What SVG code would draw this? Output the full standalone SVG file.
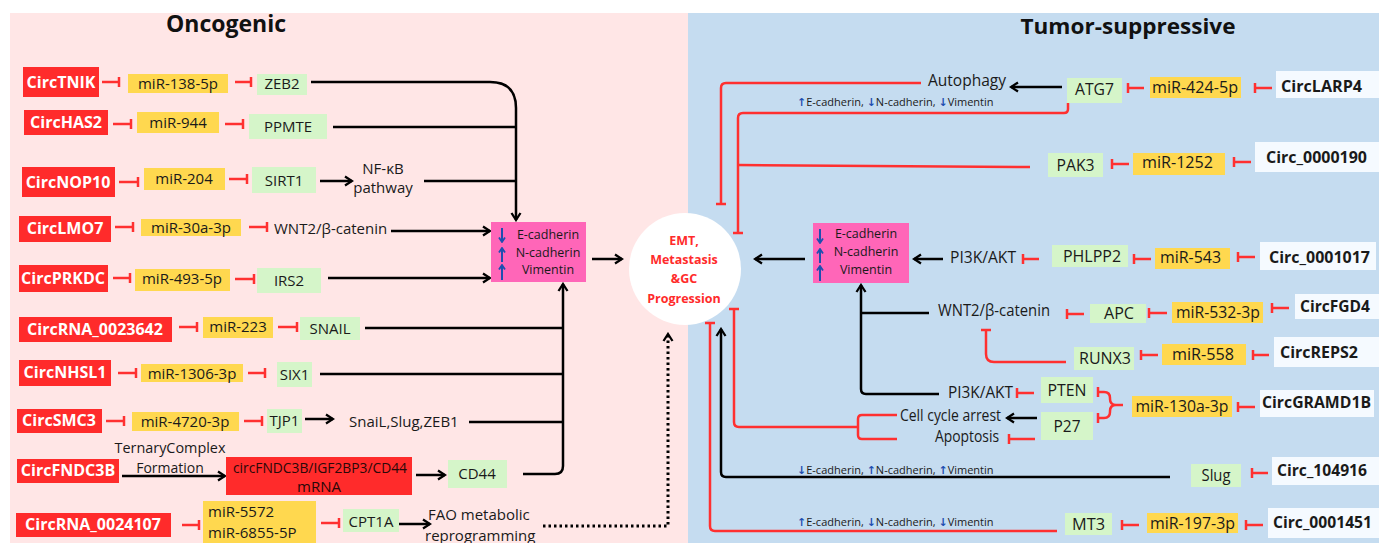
<svg xmlns="http://www.w3.org/2000/svg" width="1379" height="543" viewBox="0 0 1379 543">
<style>
text{font-family:'Open Sans','Noto Sans','Liberation Sans',sans-serif;fill:#1a1a1a;font-size:15px}
.c{text-anchor:middle}
.rb{fill:#FF2B2B}.yb{fill:#FFD84F}.gb{fill:#D5F5C9}.wb{fill:#F5FAFF}.pb{fill:#FF66B8}
.tw{fill:#fff;font-weight:bold;font-size:16px}
.tk{font-weight:bold;font-size:16px}
.r{font-size:16px}
.s{font-size:11px}
.ar2{font-family:'DejaVu Sans',sans-serif;font-size:11px;fill:#1F4FB0;font-weight:bold}
.ti{font-weight:bold;font-size:23px;fill:#111}
.ct{fill:#FF2B2B;font-weight:bold;font-size:12.5px}
.pk{font-size:12.5px}
.sm{font-size:14px}
.inh{fill:none;stroke:#FF3030;stroke-width:2.5;marker-end:url(#bar)}
.rl{fill:none;stroke:#FF3030;stroke-width:2.5}
.ln{fill:none;stroke:#000;stroke-width:2.5}
.ar{fill:none;stroke:#000;stroke-width:2.5;marker-end:url(#ah)}
.dt{fill:none;stroke:#000;stroke-width:3;stroke-dasharray:2.5 3;marker-end:url(#ah)}
.ba{fill:none;stroke:#1F4FB0;stroke-width:2;marker-end:url(#bh)}
</style>
<defs>
<marker id="bar" viewBox="-3 -6 6 12" refX="0" refY="0" markerWidth="6" markerHeight="12" orient="auto" markerUnits="userSpaceOnUse"><path d="M0,-5V5" stroke="#FF3030" stroke-width="2.5"/></marker>
<marker id="ah" viewBox="-10 -6 12 12" refX="0" refY="0" markerWidth="12" markerHeight="12" orient="auto" markerUnits="userSpaceOnUse"><path d="M-7,-4.5L0,0L-7,4.5" fill="none" stroke="#000" stroke-width="2.3"/></marker>
<marker id="bh" viewBox="-6 -4 7 8" refX="0" refY="0" markerWidth="7" markerHeight="8" orient="auto" markerUnits="userSpaceOnUse"><path d="M-4.5,-3L0,0L-4.5,3" fill="none" stroke="#1F4FB0" stroke-width="1.8"/></marker>
</defs>
<rect x="0" y="0" width="1379" height="543" fill="#fff"/>
<rect x="10" y="13" width="678" height="530" fill="#FFE6E6"/>
<rect x="688" y="13" width="691" height="530" fill="#C5DCF0"/>
<text class="ti c" x="226" y="32">Oncogenic</text>
<text class="ti c" x="1128" y="34" style="font-size:22px" textLength="215" lengthAdjust="spacingAndGlyphs">Tumor-suppressive</text>

<g id="connectors">
<path class="inh" d="M102,82H119"/><path class="inh" d="M235,82H251"/>
<path class="inh" d="M113,124H131"/><path class="inh" d="M225,124H243"/>
<path class="inh" d="M119,182H138"/><path class="inh" d="M229,179H247"/>
<path class="inh" d="M115,227H133"/><path class="inh" d="M249,227H267"/>
<path class="inh" d="M113,278H130"/><path class="inh" d="M235,279H254"/>
<path class="inh" d="M179,327H197"/><path class="inh" d="M278,327H297"/>
<path class="inh" d="M118,373H136"/><path class="inh" d="M248,373H265"/>
<path class="inh" d="M106,421H124"/><path class="inh" d="M244,421H262"/>
<path class="inh" d="M182,525H199"/><path class="inh" d="M321,523H339"/>
<path class="ar" d="M311,82H490Q516,82 516,108V220"/>
<path class="ln" d="M333,127H516"/>
<path class="ar" d="M320,181H352"/>
<path class="ln" d="M424,181H516"/>
<path class="ar" d="M391,231H490"/>
<path class="ar" d="M328,278H490"/>
<path class="ln" d="M365,328H563"/>
<path class="ln" d="M320,374H563"/>
<path class="ar" d="M305,419H333"/>
<path class="ln" d="M469,422H563"/>
<path class="ar" d="M122,476H225"/>
<path class="ar" d="M416,475H445"/>
<path class="ar" d="M523,474H555Q563,474 563,466V284"/>
<path class="ar" d="M399,524H430"/>
<path class="dt" d="M543,526H668V334"/>
<path class="ar" d="M592,259H622"/>
<path class="ar" d="M1062,87H1011"/>
<path class="ar" d="M805,259H755"/>
<path class="ar" d="M943,259H914"/>
<path class="ar" d="M939,394H866Q861,394 861,389V285"/>
<path class="ln" d="M929,313H861"/>
<path class="ar" d="M1037,418H1007"/>
<path class="ar" d="M1170,477H726Q721,477 721,472V329"/>
<path class="inh" d="M921,83H726Q721,83 721,88V204"/>
<path class="inh" d="M1068,103V109Q1068,113 1064,113H743Q738,113 738,118V233"/>
<path class="rl" d="M1030,167L738,165"/>
<path class="inh" d="M1057,531H715Q710,531 710,526V323"/>
<path class="rl" d="M897,415H862Q858,415 858,419V435Q858,439 862,439H897"/>
<path class="inh" d="M858,427H739Q734,427 734,422V309"/>
<path class="inh" d="M1066,362H994Q986,362 986,354V330"/>
<path class="inh" d="M1144,88H1128"/><path class="inh" d="M1272,88H1255"/>
<path class="inh" d="M1129,164H1112"/><path class="inh" d="M1251,162H1234"/>
<path class="inh" d="M1039,259H1023"/><path class="inh" d="M1151,259H1134"/><path class="inh" d="M1255,257H1238"/>
<path class="inh" d="M1084,314H1067"/><path class="inh" d="M1167,313H1149"/><path class="inh" d="M1289,308H1272"/>
<path class="inh" d="M1158,355H1141"/><path class="inh" d="M1269,355H1253"/>
<path class="inh" d="M1034,393H1017"/>
<path class="inh" d="M1035,439H1009"/>
<path class="inh" d="M1255,407H1238"/>
<path class="rl" d="M1123,405H1116Q1110,405 1110,399V398Q1110,392 1104,392H1098M1116,405Q1110,405 1110,411V412Q1110,418 1104,418H1098"/>
<path class="rl" d="M1098,387V397M1098,413V423"/>
<path class="inh" d="M1268,473H1252"/>
<path class="inh" d="M1139,525H1122"/><path class="inh" d="M1263,525H1246"/>
</g>

<g id="circTNIK"><rect class="rb" x="23" y="67" width="76" height="30"/><text class="tw c" x="61" y="88">CircTNIK</text></g>
<g id="miR-138-5p"><rect class="yb" x="128" y="74" width="100" height="19"/><text class="c" x="178" y="89">miR-138-5p</text></g>
<g id="ZEB2"><rect class="gb" x="257" y="74" width="50" height="21"/><text class="c" x="282" y="89">ZEB2</text></g>

<g id="circHAS2"><rect class="rb" x="24" y="110" width="84" height="25"/><text class="tw c" x="66" y="128">CircHAS2</text></g>
<g id="miR-944"><rect class="yb" x="137" y="112" width="82" height="21"/><text class="c" x="178" y="128">miR-944</text></g>
<g id="PPMTE"><rect class="gb" x="249" y="114" width="78" height="25"/><text class="c" x="288" y="132">PPMTE</text></g>

<g id="circNOP10"><rect class="rb" x="22" y="167" width="93" height="30"/><text class="tw c" x="68" y="188">CircNOP10</text></g>
<g id="miR-204"><rect class="yb" x="144" y="168" width="81" height="22"/><text class="c" x="184" y="184">miR-204</text></g>
<g id="SIRT1"><rect class="gb" x="252" y="167" width="64" height="26"/><text class="c" x="284" y="186">SIRT1</text></g>
<g id="NFkB"><text class="c" x="383" y="174">NF-κB</text><text class="c" x="383" y="193">pathway</text></g>

<g id="circLMO7"><rect class="rb" x="19" y="216" width="92" height="26"/><text class="tw c" x="65" y="234">CircLMO7</text></g>
<g id="miR-30a-3p"><rect class="yb" x="141" y="219" width="100" height="17"/><text class="c" x="191" y="233">miR-30a-3p</text></g>
<g id="WNT2-left"><text x="274" y="234">WNT2/β-catenin</text></g>

<g id="circPRKDC"><rect class="rb" x="19" y="265" width="89" height="27"/><text class="tw c" x="63" y="284">CircPRKDC</text></g>
<g id="miR-493-5p"><rect class="yb" x="135" y="269" width="95" height="22"/><text class="c" x="182" y="284">miR-493-5p</text></g>
<g id="IRS2"><rect class="gb" x="257" y="268" width="64" height="25"/><text class="c" x="289" y="286">IRS2</text></g>

<g id="circRNA_0023642"><rect class="rb" x="19" y="317" width="153" height="25"/><text class="tw c" x="95" y="335">CircRNA_0023642</text></g>
<g id="miR-223"><rect class="yb" x="203" y="317" width="70" height="21"/><text class="c" x="238" y="332">miR-223</text></g>
<g id="SNAIL"><rect class="gb" x="300" y="317" width="60" height="23"/><text class="c" x="330" y="334">SNAIL</text></g>

<g id="circNHSL1"><rect class="rb" x="19" y="360" width="92" height="26"/><text class="tw c" x="65" y="378">CircNHSL1</text></g>
<g id="miR-1306-3p"><rect class="yb" x="141" y="364" width="102" height="18"/><text class="c" x="192" y="379">miR-1306-3p</text></g>
<g id="SIX1"><rect class="gb" x="277" y="362" width="35" height="25"/><text class="c" x="294.5" y="380">SIX1</text></g>

<g id="circSMC3"><rect class="rb" x="17" y="409" width="85" height="24"/><text class="tw c" x="59" y="426">CircSMC3</text></g>
<g id="miR-4720-3p"><rect class="yb" x="132" y="412" width="107" height="19"/><text class="c" x="185" y="427">miR-4720-3p</text></g>
<g id="TJP1"><rect class="gb" x="267" y="409" width="35" height="24"/><text class="c" x="284.5" y="426">TJP1</text></g>
<g id="snail-slug-zeb1"><text x="349" y="427">SnaiL,Slug,ZEB1</text></g>

<g id="circFNDC3B"><rect class="rb" x="17" y="459" width="102" height="24"/><text class="tw c" x="68" y="476">CircFNDC3B</text></g>
<g id="ternary-label"><text class="sm c" x="170" y="453" textLength="111" lengthAdjust="spacingAndGlyphs">TernaryComplex</text><text class="sm c" x="170" y="473">Formation</text></g>
<g id="complex"><rect class="rb" x="226" y="457" width="186" height="38"/><text class="c" x="320" y="473" style="fill:#2a0808" textLength="174" lengthAdjust="spacingAndGlyphs">circFNDC3B/IGF2BP3/CD44</text><text class="c" x="319" y="492" style="fill:#2a0808">mRNA</text></g>
<g id="CD44"><rect class="gb" x="448" y="460" width="59" height="28"/><text class="c" x="477" y="479">CD44</text></g>

<g id="circRNA_0024107"><rect class="rb" x="16" y="513" width="155" height="24"/><text class="tw c" x="93" y="530">CircRNA_0024107</text></g>
<g id="miR-5572"><rect class="yb" x="203" y="501" width="113" height="45"/><text x="208" y="517">miR-5572</text><text x="208" y="538">miR-6855-5P</text></g>
<g id="CPT1A"><rect class="gb" x="343" y="509" width="56" height="23"/><text class="c" x="371" y="527">CPT1A</text></g>
<g id="FAO"><text x="428" y="520">FAO metabolic</text><text x="425" y="541">reprogramming</text></g>

<g id="markers-left"><rect class="pb" x="491" y="222" width="95" height="60"/>
<path class="ba" d="M502,228V242"/><path class="ba" d="M502,262V248"/><path class="ba" d="M502,280V265"/>
<text class="pk c" x="548" y="239">E-cadherin</text><text class="pk c" x="548" y="257">N-cadherin</text><text class="pk c" x="548" y="274">Vimentin</text></g>

<g id="outcome"><circle cx="685" cy="269" r="56" fill="#fff"/>
<text class="ct c" x="684" y="245">EMT,</text><text class="ct c" x="684" y="264">Metastasis</text><text class="ct c" x="684" y="283">&amp;GC</text><text class="ct c" x="684" y="303">Progression</text></g>

<g id="autophagy"><text class="r" x="928" y="86" textLength="78" lengthAdjust="spacingAndGlyphs">Autophagy</text></g>
<g id="effect1"><text class="s" x="797" y="106"><tspan class="ar2">↑</tspan>E-cadherin, <tspan class="ar2">↓</tspan>N-cadherin, <tspan class="ar2">↓</tspan>Vimentin</text></g>
<g id="ATG7"><rect class="gb" x="1067" y="78" width="55" height="25"/><text class="r c" x="1094.5" y="95" textLength="39" lengthAdjust="spacingAndGlyphs">ATG7</text></g>
<g id="miR-424-5p"><rect class="yb" x="1150" y="77" width="91" height="21"/><text class="r c" x="1195" y="93" textLength="86" lengthAdjust="spacingAndGlyphs">miR-424-5p</text></g>
<g id="circLARP4"><rect class="wb" x="1276" y="71" width="103" height="27"/><text class="tk c" x="1321.5" y="92" textLength="81" lengthAdjust="spacingAndGlyphs">CircLARP4</text></g>

<g id="PAK3"><rect class="gb" x="1048" y="153" width="55" height="24"/><text class="r c" x="1075.5" y="171" textLength="38" lengthAdjust="spacingAndGlyphs">PAK3</text></g>
<g id="miR-1252"><rect class="yb" x="1133" y="153" width="92" height="22"/><text class="r c" x="1177.5" y="168" textLength="71" lengthAdjust="spacingAndGlyphs">miR-1252</text></g>
<g id="circ_0000190"><rect class="wb" x="1255" y="142" width="124" height="30"/><text class="tk c" x="1316.5" y="163" textLength="101" lengthAdjust="spacingAndGlyphs">Circ_0000190</text></g>

<g id="markers-right"><rect class="pb" x="813" y="223" width="96" height="60"/>
<path class="ba" d="M820,229V243"/><path class="ba" d="M820,263V249"/><path class="ba" d="M820,281V266"/>
<text class="pk c" x="866" y="238">E-cadherin</text><text class="pk c" x="866" y="256">N-cadherin</text><text class="pk c" x="866" y="274">Vimentin</text></g>

<g id="PI3K-1"><text class="r" x="950" y="263" textLength="66" lengthAdjust="spacingAndGlyphs">PI3K/AKT</text></g>
<g id="PHLPP2"><rect class="gb" x="1052" y="245" width="76" height="22"/><text class="r c" x="1092" y="262" textLength="58" lengthAdjust="spacingAndGlyphs">PHLPP2</text></g>
<g id="miR-543"><rect class="yb" x="1155" y="248" width="75" height="21"/><text class="r c" x="1190.5" y="263" textLength="61" lengthAdjust="spacingAndGlyphs">miR-543</text></g>
<g id="circ_0001017"><rect class="wb" x="1260" y="242" width="116" height="28"/><text class="tk c" x="1319.5" y="263" textLength="101" lengthAdjust="spacingAndGlyphs">Circ_0001017</text></g>

<g id="WNT2-right"><text class="r" x="938" y="316" textLength="112" lengthAdjust="spacingAndGlyphs">WNT2/β-catenin</text></g>
<g id="APC"><rect class="gb" x="1090" y="304" width="56" height="19"/><text class="r c" x="1119" y="319" textLength="30" lengthAdjust="spacingAndGlyphs">APC</text></g>
<g id="miR-532-3p"><rect class="yb" x="1172" y="302" width="91" height="21"/><text class="r c" x="1218" y="318" textLength="84" lengthAdjust="spacingAndGlyphs">miR-532-3p</text></g>
<g id="circFGD4"><rect class="wb" x="1295" y="294" width="84" height="25"/><text class="tk c" x="1335" y="312" textLength="70" lengthAdjust="spacingAndGlyphs">CircFGD4</text></g>

<g id="RUNX3"><rect class="gb" x="1074" y="347" width="60" height="23"/><text class="r c" x="1105" y="364" textLength="52" lengthAdjust="spacingAndGlyphs">RUNX3</text></g>
<g id="miR-558"><rect class="yb" x="1162" y="344" width="84" height="21"/><text class="r c" x="1203" y="360" textLength="62" lengthAdjust="spacingAndGlyphs">miR-558</text></g>
<g id="circREPS2"><rect class="wb" x="1274" y="337" width="105" height="30"/><text class="tk c" x="1319" y="358" textLength="78" lengthAdjust="spacingAndGlyphs">CircREPS2</text></g>

<g id="PI3K-2"><text class="r" x="948" y="398" textLength="65" lengthAdjust="spacingAndGlyphs">PI3K/AKT</text></g>
<g id="PTEN"><rect class="gb" x="1041" y="377" width="52" height="26"/><text class="r c" x="1067" y="396" textLength="39" lengthAdjust="spacingAndGlyphs">PTEN</text></g>
<g id="P27"><rect class="gb" x="1041" y="412" width="52" height="28"/><text class="r c" x="1067" y="432" textLength="27" lengthAdjust="spacingAndGlyphs">P27</text></g>
<g id="miR-130a-3p"><rect class="yb" x="1132" y="396" width="100" height="21"/><text class="r c" x="1182" y="412" textLength="93" lengthAdjust="spacingAndGlyphs">miR-130a-3p</text></g>
<g id="circGRAMD1B"><rect class="wb" x="1260" y="390" width="114" height="27"/><text class="tk c" x="1316.5" y="408" textLength="109" lengthAdjust="spacingAndGlyphs">CircGRAMD1B</text></g>
<g id="cellcycle"><text class="r" x="900" y="421" textLength="101" lengthAdjust="spacingAndGlyphs">Cell cycle arrest</text></g>
<g id="apoptosis"><text class="r" x="935" y="442" textLength="64" lengthAdjust="spacingAndGlyphs">Apoptosis</text></g>

<g id="effect2"><text class="s" x="797" y="474"><tspan class="ar2">↓</tspan>E-cadherin, <tspan class="ar2">↑</tspan>N-cadherin, <tspan class="ar2">↑</tspan>Vimentin</text></g>
<g id="Slug"><rect class="gb" x="1191" y="464" width="50" height="23"/><text class="r c" x="1216" y="481" textLength="29" lengthAdjust="spacingAndGlyphs">Slug</text></g>
<g id="circ_104916"><rect class="wb" x="1272" y="457" width="107" height="28"/><text class="tk c" x="1322" y="476" textLength="90" lengthAdjust="spacingAndGlyphs">Circ_104916</text></g>

<g id="effect3"><text class="s" x="797" y="526"><tspan class="ar2">↑</tspan>E-cadherin, <tspan class="ar2">↓</tspan>N-cadherin, <tspan class="ar2">↓</tspan>Vimentin</text></g>
<g id="MT3"><rect class="gb" x="1065" y="513" width="47" height="22"/><text class="r c" x="1088.5" y="530" textLength="33" lengthAdjust="spacingAndGlyphs">MT3</text></g>
<g id="miR-197-3p"><rect class="yb" x="1147" y="513" width="91" height="20"/><text class="r c" x="1192.5" y="529" textLength="85" lengthAdjust="spacingAndGlyphs">miR-197-3p</text></g>
<g id="circ_0001451"><rect class="wb" x="1268" y="508" width="111" height="30"/><text class="tk c" x="1322.5" y="528" textLength="99" lengthAdjust="spacingAndGlyphs">Circ_0001451</text></g>
</svg>
